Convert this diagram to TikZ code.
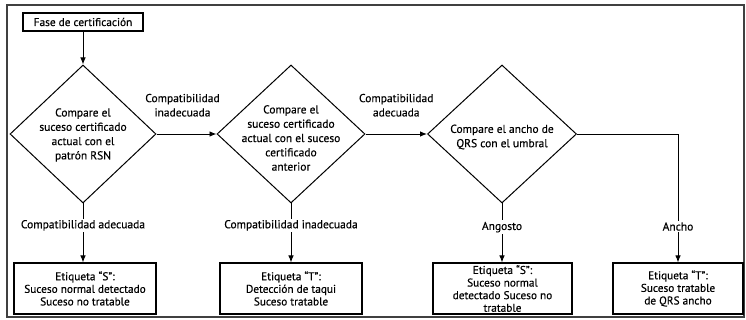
\documentclass[tikz,border=0pt]{standalone}
\usepackage{fontspec}
\setmainfont{PT Sans}[FakeBold=0.4]
\usetikzlibrary{shapes.geometric,arrows.meta}
\begin{document}
\begin{tikzpicture}[x=1pt,y=-1pt,
  every node/.style={font=\fontsize{11.5}{14.3}\selectfont},
  frame/.style={draw=black!75,line width=1.6pt},
  box/.style={draw,line width=1.1pt,align=center,inner sep=0pt,font=\fontsize{11.3}{12.6}\selectfont},
  dia/.style={draw,diamond,line width=1pt,inner sep=0pt},
  dtext/.style={align=center,inner sep=0pt},
  arr/.style={draw,line width=0.9pt,-{Latex[length=7pt,width=5.5pt]}},
  lbl/.style={fill=white,inner sep=1.5pt,align=center},
  hlbl/.style={midway,above=17pt,align=center,inner sep=0pt}]
\useasboundingbox (0,0) rectangle (746,320);
\draw[frame] (7,5) rectangle (744,317);
\node[box,minimum width=120pt,minimum height=18pt] (start) at (83,22) {Fase de certificación};
\node[dia,minimum width=146pt,minimum height=138pt] (d1) at (83,134) {};
\node[dtext] at (83,135) {Compare el\\suceso certificado\\actual con el\\patrón RSN};
\node[dia,minimum width=148pt,minimum height=138pt] (d2) at (291,134) {};
\node[dtext] at (291,138) {Compare el\\suceso certificado\\actual con el suceso\\certificado\\anterior};
\node[dia,minimum width=149pt,minimum height=138pt] (d3) at (502,134) {};
\node[dtext] at (502,137) {Compare el ancho de\\QRS con el umbral};
\node[box,minimum width=142pt,minimum height=51pt] (b1) at (85,288.5) {Etiqueta “S”:\\Suceso normal detectado\\Suceso no tratable};
\node[box,minimum width=142pt,minimum height=51pt] (b2) at (291,288.5) {Etiqueta “T”:\\Detección de taqui\\Suceso tratable};
\node[box,minimum width=139pt,minimum height=51pt] (b3) at (502.5,288.5) {Etiqueta “S”:\\Suceso normal\\detectado Suceso no\\tratable};
\node[box,minimum width=130pt,minimum height=51pt] (b4) at (678,288.5) {Etiqueta “T”:\\Suceso tratable\\de QRS ancho};
\draw[arr] (start) -- (d1.north);
\draw[arr] (d1.east) -- node[hlbl,xshift=-4pt] {Compatibilidad\\inadecuada} (d2.west);
\draw[arr] (d2.east) -- node[hlbl] {Compatibilidad\\adecuada} (d3.west);
\draw[arr] (d1.south) -- node[lbl,pos=0.37] {Compatibilidad adecuada} (b1.north -| d1.south);
\draw[arr] (d2.south) -- node[lbl,pos=0.37] {Compatibilidad inadecuada} (b2.north);
\draw[arr] (d3.south) -- node[lbl,pos=0.4] {Angosto} (b3.north -| d3.south);
\draw[arr] (d3.east) -| node[lbl,pos=0.86] {Ancho} (b4.north);
\end{tikzpicture}
\end{document}
